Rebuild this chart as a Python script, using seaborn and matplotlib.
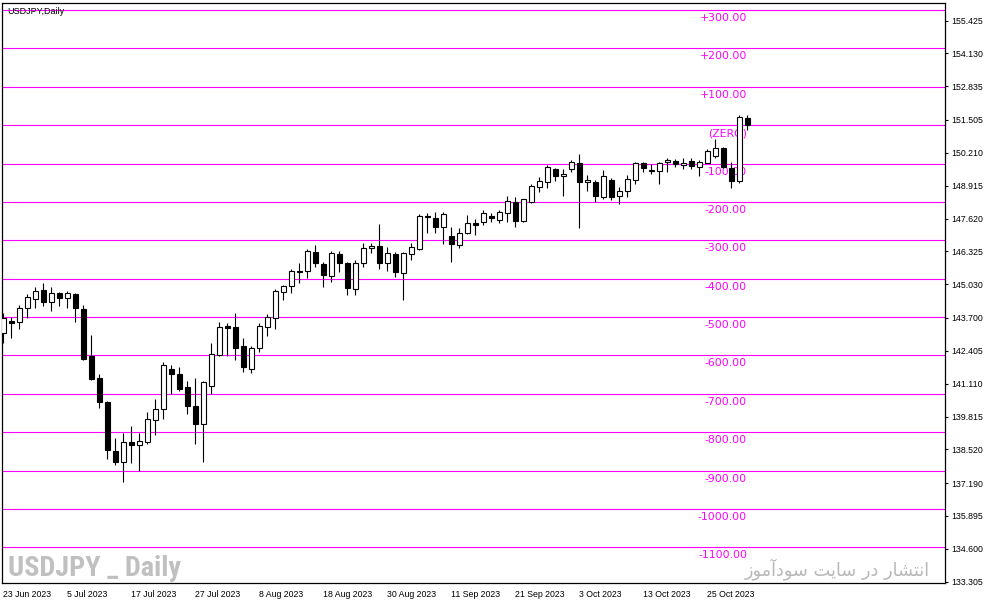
import numpy as np
import pandas as pd
import matplotlib
matplotlib.use('Agg')
import matplotlib.pyplot as plt
from matplotlib import font_manager
import seaborn as sns

# ---------------------------------------------------------
# USDJPY daily candles, 23 Jun 2023 .. 1 Nov 2023
# ---------------------------------------------------------
opens = [143.11, 143.58, 143.54, 144.09, 144.45, 144.80, 144.33, 144.68, 144.49, 144.65,
         144.05, 142.20, 141.33, 140.39, 138.46, 138.02, 138.81, 138.69, 138.81, 139.68,
         140.11, 141.69, 141.49, 140.98, 140.23, 139.52, 141.02, 142.24, 143.38, 143.34,
         142.60, 141.69, 142.52, 143.34, 143.70, 144.72, 144.96, 145.57, 145.55, 146.30,
         145.83, 145.35, 146.22, 145.87, 144.84, 145.87, 146.44, 146.54, 145.87, 146.22,
         145.47, 146.22, 146.42, 147.72, 147.64, 147.29, 146.93, 146.58, 147.05, 147.44,
         147.48, 147.72, 147.56, 147.84, 148.27, 147.52, 148.27, 148.86, 149.06, 149.57,
         149.30, 149.57, 149.81, 149.06, 149.06, 148.47, 149.14, 148.51, 148.70, 149.14,
         149.81, 149.49, 149.49, 149.85, 149.89, 149.73, 149.89, 149.65, 149.81, 150.08,
         150.40, 149.61, 149.10, 151.58]
highs = [143.90, 143.74, 144.21, 144.65, 144.92, 145.08, 144.92, 144.72, 144.76, 144.68,
         144.21, 143.03, 141.49, 140.42, 138.97, 139.17, 139.44, 139.17, 139.99, 140.51,
         141.96, 141.85, 141.77, 141.22, 141.33, 141.22, 142.71, 143.54, 143.50, 143.90,
         142.91, 142.60, 143.50, 143.86, 144.84, 145.00, 145.63, 145.87, 146.42, 146.58,
         145.91, 146.34, 146.34, 145.91, 145.99, 146.66, 146.66, 147.40, 146.50, 146.30,
         146.30, 146.66, 147.80, 147.84, 147.88, 147.88, 147.29, 147.25, 147.76, 147.60,
         147.96, 147.84, 147.96, 148.51, 148.47, 148.40, 148.98, 149.26, 149.73, 149.61,
         149.57, 149.93, 150.16, 149.34, 149.14, 149.53, 149.22, 148.86, 149.34, 149.85,
         149.85, 149.77, 149.85, 150.01, 149.97, 150.01, 150.01, 149.93, 150.36, 150.76,
         150.44, 149.85, 151.70, 151.70]
lows = [142.71, 142.91, 143.27, 143.70, 144.09, 144.17, 143.97, 144.17, 144.09, 143.54,
        142.04, 141.26, 140.15, 138.14, 137.90, 137.23, 137.98, 137.67, 138.73, 139.09,
        139.72, 140.70, 140.82, 139.91, 138.73, 138.02, 140.70, 142.20, 142.20, 142.04,
        141.57, 141.53, 142.36, 142.99, 143.27, 144.41, 144.68, 145.08, 145.28, 145.71,
        144.92, 145.12, 145.51, 144.61, 144.61, 145.71, 146.26, 145.63, 145.55, 145.32,
        144.41, 145.99, 146.38, 147.05, 147.05, 146.62, 145.91, 146.46, 147.01, 146.97,
        147.36, 147.48, 147.44, 147.48, 147.29, 147.50, 148.23, 148.67, 148.82, 149.10,
        148.51, 149.45, 147.25, 148.70, 148.27, 148.39, 148.35, 148.19, 148.47, 148.98,
        149.45, 149.38, 148.98, 149.45, 149.65, 149.57, 149.57, 149.30, 149.79, 150.01,
        149.61, 148.82, 149.02, 151.11]
closes = [143.70, 143.52, 144.09, 144.53, 144.76, 144.33, 144.68, 144.49, 144.68, 144.09,
          142.08, 141.29, 140.39, 138.50, 138.02, 138.81, 138.69, 138.85, 139.72, 140.11,
          141.85, 141.49, 140.90, 140.23, 139.52, 141.18, 142.28, 143.34, 143.30, 142.52,
          141.77, 142.52, 143.38, 143.74, 144.76, 144.96, 145.55, 145.53, 146.34, 145.87,
          145.39, 146.26, 145.87, 144.88, 145.87, 146.46, 146.54, 145.87, 146.26, 145.51,
          146.26, 146.50, 147.72, 147.68, 147.29, 147.80, 146.62, 147.05, 147.44, 147.38,
          147.84, 147.64, 147.88, 148.31, 147.52, 148.39, 148.90, 149.10, 149.65, 149.30,
          149.38, 149.85, 149.06, 149.14, 148.51, 149.30, 148.47, 148.70, 149.18, 149.81,
          149.61, 149.53, 149.81, 149.93, 149.77, 149.82, 149.69, 149.85, 150.28, 150.40,
          149.65, 149.10, 151.62, 151.31]

# date labels every 8 bars
date_labels = ['23 Jun 2023', '5 Jul 2023', '17 Jul 2023', '27 Jul 2023', '8 Aug 2023',
               '18 Aug 2023', '30 Aug 2023', '11 Sep 2023', '21 Sep 2023', '3 Oct 2023',
               '13 Oct 2023', '25 Oct 2023']

# right price scale
price_ticks = [155.425, 154.130, 152.835, 151.505, 150.210, 148.915, 147.620, 146.325,
               145.030, 143.700, 142.405, 141.110, 139.815, 138.520, 137.190, 135.895,
               134.600, 133.305]

# pip levels drawn around the zero line
level_names = ['+300.00', '+200.00', '+100.00', '(ZERO)', '-100.00', '-200.00', '-300.00',
               '-400.00', '-500.00', '-600.00', '-700.00', '-800.00', '-900.00',
               '-1000.00', '-1100.00']
level_prices = [155.839, 154.326, 152.813, 151.301, 149.788, 148.275, 146.762, 145.250,
                143.737, 142.224, 140.711, 139.198, 137.686, 136.173, 134.660]

df = pd.DataFrame({'open': opens, 'high': highs, 'low': lows, 'close': closes})
df['bar'] = np.arange(len(df))
df['bull'] = df['close'] >= df['open']

# ---------------------------------------------------------
sns.set_style('white')
plt.rcParams['font.family'] = ['Liberation Sans', 'DejaVu Sans']

MAG = '#FF00FF'
fig = plt.figure(figsize=(9.91, 6.05), dpi=100)
ax = fig.add_axes([2 / 991, 22 / 605, 943 / 991, 580 / 605])

for p in level_prices:
    ax.axhline(p, color=MAG, lw=0.8, zorder=1)
for name, p in zip(level_names, level_prices):
    ax.annotate(name, (92.94, p), xytext=(0, -2.2), textcoords='offset points',
                ha='right', va='top', color=MAG, fontsize=7.8, family='DejaVu Sans',
                zorder=1.5)

# wicks then bodies, drawn over the level labels
ax.vlines(df['bar'], df['low'], df['high'], color='black', lw=0.8, zorder=2)
body_lo = df[['open', 'close']].min(axis=1)
body_h = (df['close'] - df['open']).abs().clip(lower=0.015)
ax.bar(df['bar'], body_h, bottom=body_lo, width=0.62,
       color=np.where(df['bull'], 'white', 'black'), edgecolor='black', lw=0.8, zorder=3)

ax.set_xlim(-0.1875, 117.69)
ax.set_ylim(133.253, 156.115)

ax.yaxis.tick_right()
ax.set_yticks(price_ticks)
ax.set_yticklabels([f'{v:.3f}' for v in price_ticks])
ax.set_xticks(np.arange(len(date_labels)) * 8)
ax.set_xticklabels(date_labels, ha='left')
ax.tick_params(axis='both', direction='out', length=2.5, width=0.8, color='black',
               labelsize=6.3, labelcolor='black')
ax.tick_params(axis='y', pad=2)
ax.tick_params(axis='x', pad=2.5)
for s in ax.spines.values():
    s.set_color('black')
    s.set_linewidth(0.9)
ax.grid(False)

ax.text(5 / 943, 1 - 4 / 580, 'USDJPY,Daily', transform=ax.transAxes, ha='left', va='top',
        fontsize=6.5, color='black')

# watermarks: a narrow bold face if one is installed, else a smaller Liberation Sans
names = {f.name for f in font_manager.fontManager.ttflist}
narrow = [n for n in ['Liberation Sans Narrow', 'DejaVu Sans Condensed', 'Roboto Condensed',
                      'Open Sans Condensed'] if n in names]
if narrow:
    wm_family, wm_size = narrow[0], 20.3
else:
    wm_family, wm_size = 'Liberation Sans', 16.5
fig.text(8 / 991, 1 - 576 / 605, 'USDJPY _ Daily', ha='left', va='baseline',
         fontsize=wm_size, fontweight='bold', family=[wm_family, 'DejaVu Sans'],
         color='#C0C0C0')
fa_glyphs = ['\uFE8D', '\uFEE7', '\uFE98', '\uFEB8', '\uFE8E', '\uFEAD', ' ',
             '\uFEA9', '\uFEAD', ' ',
             '\uFEB3', '\uFE8E', '\uFEF3', '\uFE96', ' ',
             '\uFEB3', '\uFEEE', '\uFEA9', '\uFE81', '\uFEE3', '\uFEEE', '\uFEAF']
fa_text = ''.join(reversed(fa_glyphs))
fig.text(930 / 991, 1 - 575 / 605, fa_text, ha='right', va='baseline', fontsize=12.8,
         family='DejaVu Sans', color='#B8B8B8')

fig.savefig('out.png', dpi=100)
